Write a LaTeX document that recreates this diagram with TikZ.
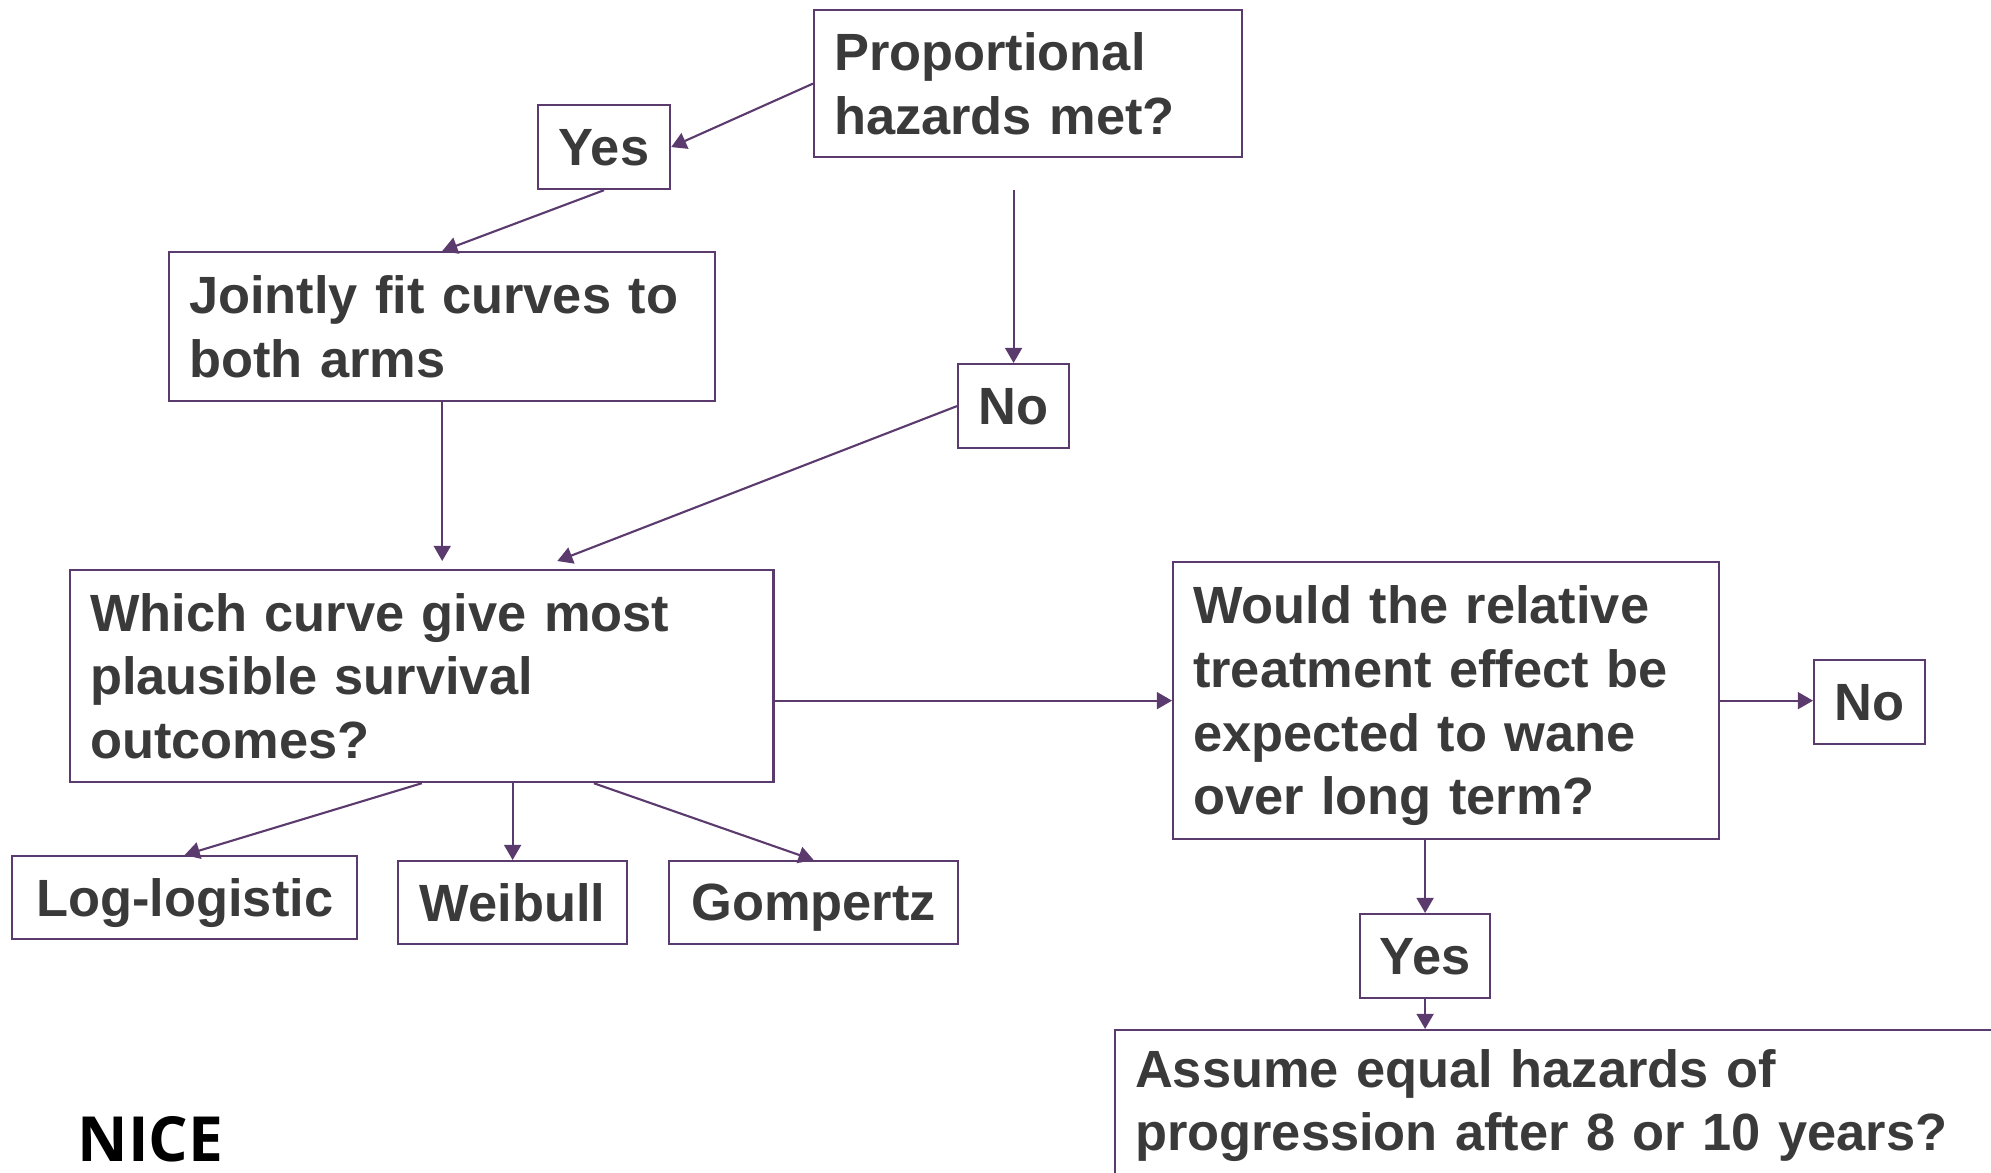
\documentclass[tikz,border=0pt]{standalone}
\usepackage{fontspec}
\setmainfont{Liberation Sans}
\newfontfamily\logofont{Open Sans}
\usetikzlibrary{positioning, arrows.meta, calc}
\definecolor{niceplum}{HTML}{5B3A6E}
\definecolor{nicetext}{HTML}{3A3A3A}

\begin{document}
\begin{tikzpicture}[
    x=0.01cm, y=-0.01cm,
    box/.style={rectangle, draw=niceplum, line width=0.6pt, anchor=north west,
                inner xsep=0.2cm, inner ysep=0pt, align=left, text=nicetext,
                font=\fontsize{14.9}{18.1}\selectfont\bfseries},
    tag/.style={box, align=center, inner xsep=0pt, text depth=0pt},
    arr/.style={-{Triangle[length=4.3pt, width=4.8pt]}, line width=0.6pt, niceplum}
]
\useasboundingbox (0,0) rectangle (1991,1172);
\clip (0,0) rectangle (1991,1172);

% question boxes
\node[box, text width=3.88cm, minimum height=1.47cm] (prop) at (813,9)
    {Proportional\\hazards met?};
\node[box, text width=5.06cm, minimum height=1.49cm] (joint) at (168,251)
    {Jointly fit curves to\\both arms};
\node[box, text width=6.63cm, minimum height=2.12cm] (which) at (69,569)
    {Which curve give most\\plausible survival\\outcomes?};
\node[box, text width=5.06cm, minimum height=2.77cm] (wane) at (1172,561)
    {\rule{0pt}{13.8pt}Would the relative\\treatment effect be\\expected to wane\\over long term?};
\node[box, text width=8.6cm, minimum height=1.51cm] (assume) at (1114,1029)
    {Assume equal hazards of\\progression after 8 or 10 years?};

% answer boxes
\node[tag, minimum width=1.32cm, minimum height=0.84cm] (yesA) at (537,104) {Yes};
\node[tag, minimum width=1.11cm, minimum height=0.84cm] (noA)  at (957,363) {No};
\node[tag, minimum width=1.11cm, minimum height=0.84cm] (noB)  at (1813,659) {No};
\node[tag, minimum width=1.30cm, minimum height=0.84cm] (yesB) at (1359,913) {Yes};

% curve choices
\node[tag, minimum width=3.45cm, minimum height=0.83cm] (loglog) at (11,855)  {Log-logistic};
\node[tag, minimum width=2.29cm, minimum height=0.83cm] (weib)   at (397,860) {Weibull};
\node[tag, minimum width=2.89cm, minimum height=0.83cm] (gomp)   at (668,860) {Gompertz};

\node[anchor=base west, inner sep=0pt, font=\logofont\fontsize{17.7}{20}\selectfont\bfseries] (logo)
    at (77,1161) {NICE};

% helper points
\coordinate (propbelow) at ([yshift=-0.32cm]prop.south);
\coordinate (whichtop)  at ([yshift=0.08cm]which.north);

\draw[arr] (prop.west) -- (yesA.east);
\draw[arr] (yesA.south) -- (joint.north);
\draw[arr] (propbelow -| noA.north) -- (noA.north);
\draw[arr] (noA.west) -- ([xshift=1.355cm]whichtop);
\draw[arr] (joint.south) -- (joint.south |- whichtop);
\draw[arr] (which.east |- wane.west) -- (wane.west);
\draw[arr] (wane.east) -- (wane.east -| noB.west);
\draw[arr] (which.south) -- (loglog.north);
\draw[arr] (which.south -| weib.north) -- (weib.north);
\draw[arr] ([xshift=1.72cm]which.south) -- (gomp.north);
\draw[arr] (wane.south -| yesB.north) -- (yesB.north);
\draw[arr] (yesB.south) -- (yesB.south |- assume.north);

\end{tikzpicture}
\end{document}
